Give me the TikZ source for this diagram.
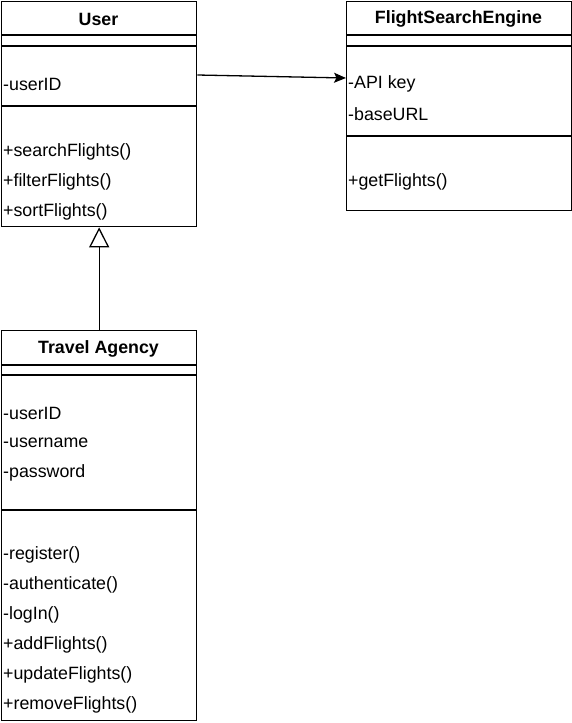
\documentclass[tikz,border=0pt]{standalone}
\usepackage{fontspec}
\setmainfont{Liberation Sans}
\usetikzlibrary{arrows.meta}
\begin{document}
\begin{tikzpicture}[x=1pt,y=-1pt,
  box/.style={draw,line width=1.3pt,minimum width=195pt,anchor=north west,inner sep=0pt},
  sep/.style={line width=1.3pt},
  title/.style={font=\fontsize{17.8}{20}\selectfont\bfseries,anchor=center},
  item/.style={font=\fontsize{17.8}{20}\selectfont,anchor=west,inner sep=0pt},
  conn/.style={line width=1.3pt}]
\useasboundingbox (0,0) rectangle (572,723);
% User
\node[box,minimum height=225pt] (user) at (1,1) {};
\draw[sep] (1,35) -- (196,35) (1,46) -- (196,46) (1,106) -- (196,106);
\node[title] (ut) at (98.5,19) {User};
\node[item] (u1) at (3,84) {-userID};
\node[item] (u2) at (3,152) {+searchFlights()};
\node[item] (u3) at (3,182) {+filterFlights()};
\node[item] (u4) at (3,212) {+sortFlights()};
% FlightSearchEngine
\node[box,minimum width=225pt,minimum height=209pt] (fse) at (346,1) {};
\draw[sep] (346,35) -- (571,35) (346,46) -- (571,46) (346,136) -- (571,136);
\node[title] (ft) at (458.5,19) {FlightSearchEngine};
\node[item] (f1) at (348,84) {-API key};
\node[item] (f2) at (348,114) {-baseURL};
\node[item] (f3) at (348,182) {+getFlights()};
% Travel Agency
\node[box,minimum height=390pt] (ta) at (1,330) {};
\draw[sep] (1,365) -- (196,365) (1,375) -- (196,375) (1,510) -- (196,510);
\node[title] (tt) at (98.5,349) {Travel Agency};
\node[item] (t1) at (3,413) {-userID};
\node[item] (t2) at (3,443) {-username};
\node[item] (t3) at (3,473) {-password};
\node[item] (t4) at (3,555) {-register()};
\node[item] (t5) at (3,585) {-authenticate()};
\node[item] (t6) at (3,615) {-logIn()};
\node[item] (t7) at (3,645) {+addFlights()};
\node[item] (t8) at (3,675) {+updateFlights()};
\node[item] (t9) at (3,705) {+removeFlights()};
% connectors
\draw[conn,-{Stealth[length=12pt,width=10pt,inset=2.5pt]}] ([yshift=-74pt]user.north east) -- ([yshift=-77pt]fse.north west);
\draw[conn,-{Triangle[open,length=20pt,width=20pt]}] (ta.north) -- (user.south);
\end{tikzpicture}
\end{document}
